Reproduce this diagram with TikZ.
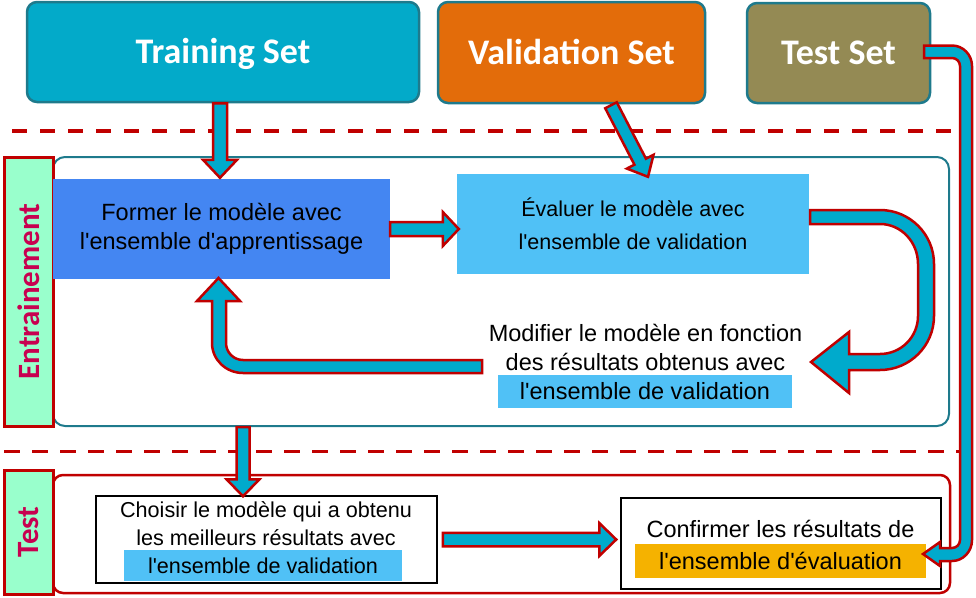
\documentclass[tikz,border=0pt]{standalone}
\usepackage{fontspec}
\setmainfont{Liberation Sans}[Ligatures=TeXOff]
\newfontfamily\titlefont{Carlito}
\usetikzlibrary{calc}
\definecolor{trainc}{RGB}{3,170,201}
\definecolor{validc}{RGB}{227,108,10}
\definecolor{testc}{RGB}{148,138,84}
\definecolor{tealb}{RGB}{30,122,140}
\definecolor{darkred}{RGB}{192,0,0}
\definecolor{arrfill}{RGB}{0,170,204}
\definecolor{mint}{RGB}{153,255,204}
\definecolor{labeltxt}{RGB}{200,0,80}
\definecolor{formerc}{RGB}{68,134,242}
\definecolor{lightb}{RGB}{80,193,246}
\definecolor{goldc}{RGB}{245,178,0}
% straight block arrow: #1 from, #2 to, #3 half shaft, #4 half head, #5 head length
\newcommand\fatarrow[5]{%
  \coordinate (faH) at ($(#2)!#5!(#1)$);
  \draw[fat] ($(#1)!#3!90:(#2)$) -- ($(faH)!#3!-90:(#1)$) -- ($(faH)!#4!-90:(#1)$)
    -- (#2) -- ($(faH)!#4!90:(#1)$) -- ($(faH)!#3!90:(#1)$) -- ($(#1)!#3!-90:(#2)$) -- cycle;
}
\begin{document}
\begin{tikzpicture}[x=1pt,y=-1pt,
  setbox/.style={draw=tealb, line width=2.5pt, rounded corners=10pt, text=white,
    font=\titlefont\bfseries\fontsize{36}{40}\selectfont, inner sep=0pt,
    text height=23pt, text depth=0pt},
  fat/.style={draw=darkred, fill=arrfill, line width=2.5pt, line join=miter},
  sepline/.style={draw=darkred, line width=3.5pt, dash pattern=on 15pt off 13pt},
  lanebox/.style={draw=darkred, line width=3pt, fill=mint, text=labeltxt,
    font=\titlefont\bfseries\fontsize{31}{36}\selectfont, inner sep=0pt},
  bodytext/.style={font=\fontsize{23.5}{29}\selectfont, align=center, inner sep=0pt},
  smalltext/.style={font=\fontsize{21.6}{28}\selectfont, align=center, inner sep=0pt}]
\useasboundingbox (0,0) rectangle (976,597);

% separators
\draw[sepline] (12,131) -- (952,131);
\draw[sepline, line width=3pt, dash pattern=on 16pt off 12pt] (4,451) -- (962,451);

% top sets
\node[setbox, fill=trainc, minimum width=392pt, minimum height=100pt] (train) at (223,52) {Training Set};
\node[setbox, fill=validc, minimum width=267pt, minimum height=101pt] (valid) at (571.5,52.5) {Validation Set};
\node[setbox, fill=testc, minimum width=183pt, minimum height=100pt] (testset) at (838.5,53) {Test Set};

% lanes
\node[draw=tealb, line width=2pt, rounded corners=12pt, minimum width=896pt, minimum height=269pt] (entr) at (501,291.5) {};
\node[draw=darkred, line width=2.5pt, rounded corners=10pt, minimum width=897pt, minimum height=118pt] (testpanel) at (501.5,534) {};
\node[lanebox, rotate=90, minimum width=269pt, minimum height=49pt] (entrlabel) at (28.5,291.5) {Entrainement};
\node[lanebox, rotate=90, minimum width=124pt, minimum height=49pt] (testlabel) at (28.5,532) {Test};

% training boxes
\node[bodytext, fill=formerc, minimum width=337pt, minimum height=100pt] (former) at (221.5,229)
  {Former le modèle avec\\l'ensemble d'apprentissage};
\node[font=\fontsize{21.5}{33}\selectfont, align=center, inner sep=0pt, fill=lightb,
  minimum width=352pt, minimum height=100pt] (evaluer) at (633,224)
  {Évaluer le modèle avec\\l'ensemble de validation};
\node[bodytext] (modif) at (645.5,347) {Modifier le modèle en fonction\\des résultats obtenus avec};
\node[bodytext, fill=lightb, minimum width=294pt, minimum height=33pt] (modhl) at (645,391.5) {l'ensemble de validation};

% test boxes
\node[draw=black, line width=1.5pt, fill=white, minimum width=341pt, minimum height=87pt] (choisir) at (266.5,539.5) {};
\node[smalltext] (choisirtxt) at (266,524) {Choisir le modèle qui a obtenu\\les meilleurs résultats avec};
\node[smalltext, fill=lightb, minimum width=278pt, minimum height=31pt] (choisirhl) at (263,565.5) {l'ensemble de validation};
\node[draw=black, line width=1.5pt, fill=white, minimum width=320pt, minimum height=91pt] (confirmer) at (781,543.5) {};
\node[bodytext] (confirmertxt) at (780.5,528.5) {Confirmer les résultats de};
\node[bodytext, fill=goldc, minimum width=291pt, minimum height=34pt] (confirmerhl) at (780.5,561) {l'ensemble d'évaluation};

% straight block arrows
\coordinate (t1) at ($(train.south)+(-3,0)$);
\coordinate (t2) at ($(former.north)+(-1.5,-1)$);
\fatarrow{t1}{t2}{7pt}{17pt}{18pt}
\coordinate (v1) at ($(valid.south)+(39.5,1)$);
\coordinate (v2) at ($(evaluer.north)+(15,3)$);
\fatarrow{v1}{v2}{6.5pt}{15pt}{17pt}
\coordinate (fe1) at (former.east);
\coordinate (fe2) at ($(former.east -| evaluer.west)+(2,0)$);
\fatarrow{fe1}{fe2}{7pt}{17pt}{16pt}
\coordinate (ec2) at ($(choisir.north)+(-23.5,1)$);
\coordinate (ec1) at (ec2 |- entr.south);
\fatarrow{ec1}{ec2}{6.5pt}{16.5pt}{17pt}
\coordinate (cc1) at ($(choisir.east)+(5,0)$);
\coordinate (cc2) at ($(choisir.east -| confirmer.west)+(-4,0)$);
\fatarrow{cc1}{cc2}{6.75pt}{16.5pt}{17pt}

% feedback arrow (modifier -> former)
\draw[fat] (482,360) -- (243,360) .. controls (233.6,360) and (226,352.4) .. (226,343)
  -- (226,301) -- (240,301) -- (218.5,278) -- (197,301) -- (212,301) -- (212,343)
  .. controls (212,359.6) and (225.9,373) .. (243,373) -- (482,373) -- cycle;

% U-turn arrow (evaluer -> modifier)
\draw[fat] (810,210) -- (880,210) .. controls (909.8,210) and (934,234.2) .. (934,264)
  -- (934,316) .. controls (934,345.8) and (909.8,370) .. (880,370) -- (849,370)
  -- (849,393) -- (811,362) -- (849,332) -- (849,354) -- (880,354)
  .. controls (901,354) and (918,337) .. (918,316) -- (918,264)
  .. controls (918,241.9) and (901,224) .. (880,224) -- (810,224) -- cycle;

% test set arrow (test set -> confirmer)
\draw[fat] (924,45.5) -- (952,45.5) .. controls (963,45.5) and (972,54.7) .. (972,66)
  -- (972,540) .. controls (972,551.6) and (963,561) .. (952,561) -- (940,561)
  -- (940,566) -- (923,554) -- (940,542) -- (940,548) -- (952,548)
  .. controls (956.4,548) and (960,544.4) .. (960,540) -- (960,66)
  .. controls (960,61.6) and (956.4,58) .. (952,58) -- (924,58) -- cycle;
\end{tikzpicture}
\end{document}
